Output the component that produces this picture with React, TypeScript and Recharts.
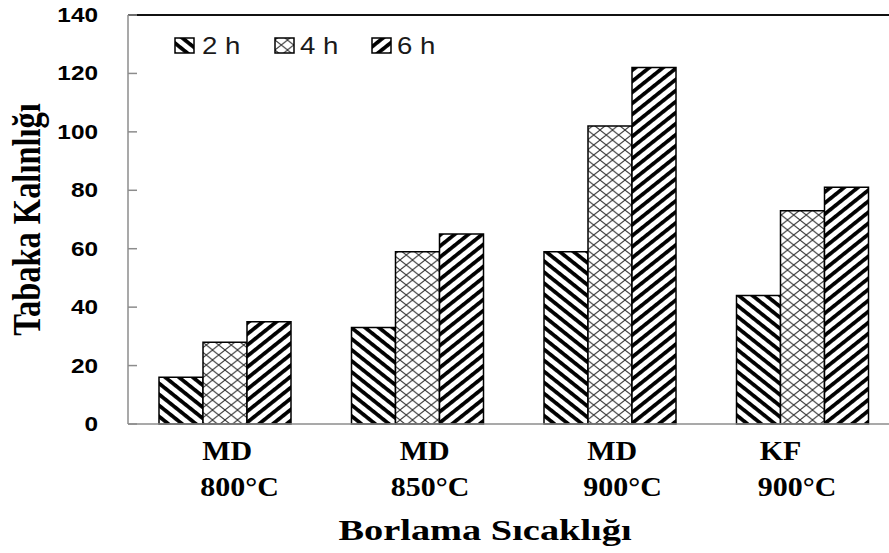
import React from 'react';
import { BarChart, Bar, XAxis, YAxis, ReferenceLine } from 'recharts';

// categories: process + temperature
const GROUPS = ['MD', 'MD', 'MD', 'KF'];
const TEMPS = ['800°C', '850°C', '900°C', '900°C'];

// layer thickness per boriding time
const H2 = [16, 33, 59, 44];
const H4 = [28, 59, 102, 73];
const H6 = [35, 65, 122, 81];

const SERIES = ['2 h', '4 h', '6 h'];
const Y_TICKS = [0, 20, 40, 60, 80, 100, 120, 140];

const data = GROUPS.map((g, i) => ({
  name: `${g}\n${TEMPS[i]}`,
  h2: H2[i],
  h4: H4[i],
  h6: H6[i],
}));

const SERIF = '"Liberation Serif", "Times New Roman", serif';
const SANS = '"Liberation Sans", Arial, sans-serif';
const PATTERNS = ['pat2h', 'pat4h', 'pat6h'];

// left offsets of the two-line category labels
const NAME_SHIFT = [-22, -17, -22, -42];
const TEMP_SHIFT = [-24, -26, -26, -44];

function SText({ x, y, sx = 1, rotate = 0, anchor = 'start', size, family, weight = 'normal', fill = '#000', children }: any) {
  return (
    <g transform={`translate(${x},${y}) scale(${sx},1)${rotate ? ` rotate(${rotate})` : ''}`}>
      <text x={0} y={0} textAnchor={anchor} fontSize={size} fontFamily={family} fontWeight={weight} fill={fill}>
        {children}
      </text>
    </g>
  );
}

function CategoryTick(props: any) {
  const { x, y, payload, index } = props;
  const [g, t] = String(payload.value).split('\n');
  return (
    <g>
      <SText x={x + NAME_SHIFT[index]} y={y + 36} sx={1.09} size={27.5} family={SERIF} weight="bold">{g}</SText>
      <SText x={x + TEMP_SHIFT[index]} y={y + 72} sx={1.09} size={27.5} family={SERIF} weight="bold">{t}</SText>
    </g>
  );
}

function ValueTick(props: any) {
  const { x, y, payload } = props;
  return (
    <g>
      <line x1={x + 30} x2={x + 39} y1={y} y2={y} stroke="#8c8c8c" strokeWidth={1.5} />
      <SText x={x} y={y + 7} sx={1.25} anchor="end" size={19.5} family={SANS} weight="bold">{payload.value}</SText>
    </g>
  );
}

function Legend3() {
  const iconX = [175, 275, 372];
  const textX = [202, 300, 397];
  return (
    <g>
      {SERIES.map((s, i) => (
        <g key={s}>
          <rect x={iconX[i]} y={38} width={19} height={15} fill={`url(#${PATTERNS[i]})`} stroke="#000" strokeWidth={1.5} />
          <SText x={textX[i]} y={54} sx={1.2} size={23} family={SANS} fill="#1a1a1a">{s}</SText>
        </g>
      ))}
    </g>
  );
}

export default function App() {
  return (
    <div style={{ position: 'absolute', left: 0, top: 0, width: 889, height: 553, overflow: 'hidden', background: '#fff' }}>
      <BarChart
        width={898}
        height={553}
        data={data}
        margin={{ top: 15, right: 0, bottom: 0, left: 0 }}
        barCategoryGap={31}
        barGap={0}
      >
        <defs>
          <pattern id="pat2h" patternUnits="userSpaceOnUse" width={8} height={7.8} patternTransform="scale(1.25,1) rotate(45)">
            <rect x={0} y={0} width={8} height={7.8} fill="#fff" />
            <rect x={0} y={0} width={8} height={3.4} fill="#000" />
          </pattern>
          <pattern id="pat4h" patternUnits="userSpaceOnUse" width={12.5} height={10}>
            <rect x={0} y={0} width={12.5} height={10} fill="#fff" />
            <path d="M0 0 L12.5 10 M12.5 0 L0 10" stroke="#333" strokeWidth={1} />
          </pattern>
          <pattern id="pat6h" patternUnits="userSpaceOnUse" width={8} height={7.8} patternTransform="scale(1.25,1) rotate(-45)">
            <rect x={0} y={0} width={8} height={7.8} fill="#fff" />
            <rect x={0} y={0} width={8} height={3.4} fill="#000" />
          </pattern>
        </defs>
        <XAxis
          dataKey="name"
          height={129}
          axisLine={{ stroke: '#8c8c8c', strokeWidth: 1.5 }}
          tickLine={false}
          tickSize={0}
          tickMargin={0}
          interval={0}
          tick={CategoryTick}
          label={{
            content: (p: any) => {
              const vb = p.viewBox;
              return (
                <SText x={vb.x + vb.width / 2 - 28} y={540} sx={1.28} anchor="middle" size={30} family={SERIF} weight="bold">
                  Borlama Sıcaklığı
                </SText>
              );
            },
          }}
        />
        <YAxis
          width={128}
          domain={[0, 140]}
          ticks={Y_TICKS}
          interval={0}
          axisLine={{ stroke: '#8c8c8c', strokeWidth: 1.5 }}
          tickLine={false}
          tickSize={0}
          tickMargin={30}
          tick={ValueTick}
          label={{
            content: (p: any) => {
              const vb = p.viewBox;
              return (
                <SText x={40} y={vb.y + vb.height / 2} sx={1.2} rotate={-90} anchor="middle" size={32.5} family={SERIF} weight="bold">
                  Tabaka Kalınlığı
                </SText>
              );
            },
          }}
        />
        <ReferenceLine y={140} stroke="#111" strokeWidth={2} />
        <Bar dataKey="h2" name={SERIES[0]} fill="url(#pat2h)" stroke="#000" strokeWidth={1.5} isAnimationActive={false} />
        <Bar dataKey="h4" name={SERIES[1]} fill="url(#pat4h)" stroke="#000" strokeWidth={1.5} isAnimationActive={false} />
        <Bar dataKey="h6" name={SERIES[2]} fill="url(#pat6h)" stroke="#000" strokeWidth={1.5} isAnimationActive={false} />
        <Legend3 />
      </BarChart>
    </div>
  );
}
